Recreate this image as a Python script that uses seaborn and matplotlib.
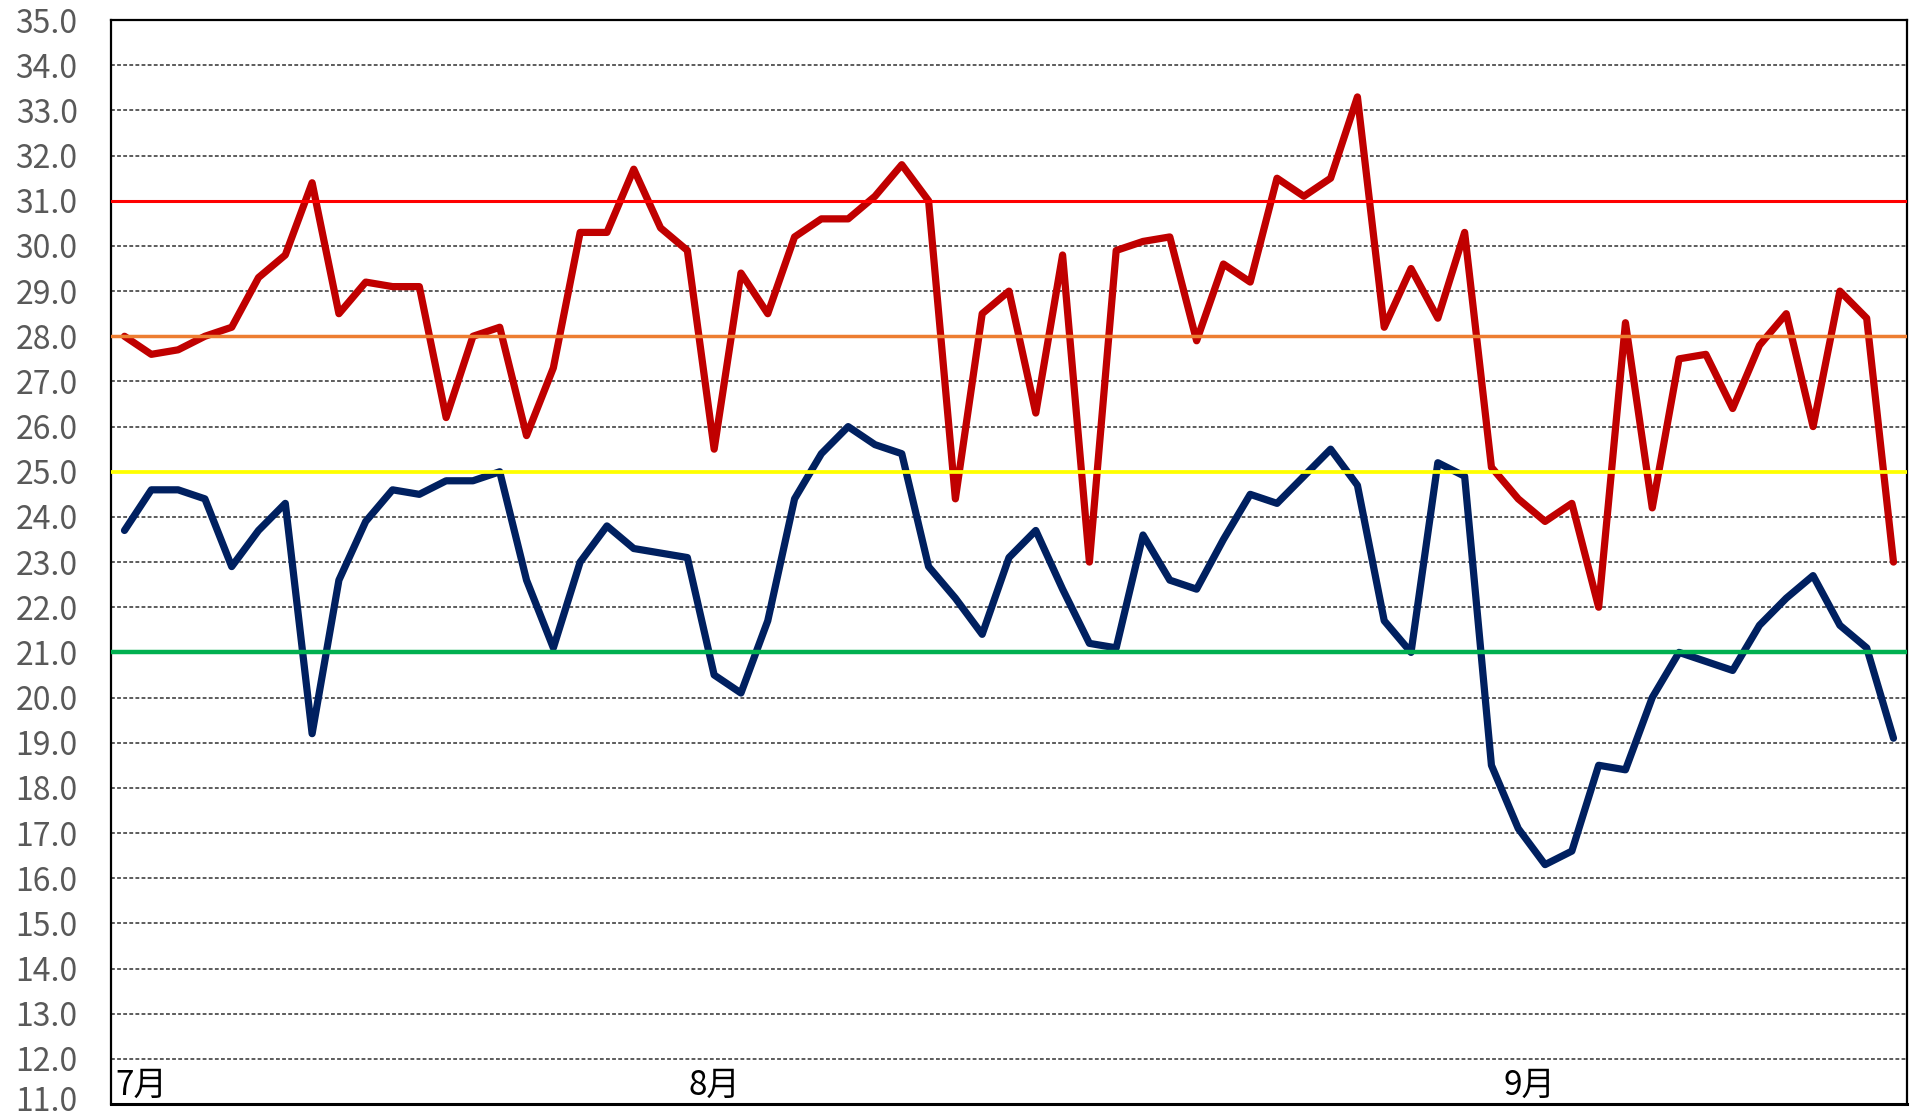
import numpy as np
import pandas as pd
import matplotlib
matplotlib.use("Agg")
import matplotlib.pyplot as plt
import matplotlib.transforms as mtransforms
import seaborn as sns

# daily values, Jul 10 - Sep 14
start_date = "2023-07-10"
tmax = [28.0, 27.6, 27.7, 28.0, 28.2, 29.3, 29.8, 31.4, 28.5, 29.2,
        29.1, 29.1, 26.2, 28.0, 28.2, 25.8, 27.3, 30.3, 30.3, 31.7,
        30.4, 29.9, 25.5, 29.4, 28.5, 30.2, 30.6, 30.6, 31.1, 31.8,
        31.0, 24.4, 28.5, 29.0, 26.3, 29.8, 23.0, 29.9, 30.1, 30.2,
        27.9, 29.6, 29.2, 31.5, 31.1, 31.5, 33.3, 28.2, 29.5, 28.4,
        30.3, 25.1, 24.4, 23.9, 24.3, 22.0, 28.3, 24.2, 27.5, 27.6,
        26.4, 27.8, 28.5, 26.0, 29.0, 28.4, 23.0]
tmin = [23.7, 24.6, 24.6, 24.4, 22.9, 23.7, 24.3, 19.2, 22.6, 23.9,
        24.6, 24.5, 24.8, 24.8, 25.0, 22.6, 21.1, 23.0, 23.8, 23.3,
        23.2, 23.1, 20.5, 20.1, 21.7, 24.4, 25.4, 26.0, 25.6, 25.4,
        22.9, 22.2, 21.4, 23.1, 23.7, 22.4, 21.2, 21.1, 23.6, 22.6,
        22.4, 23.5, 24.5, 24.3, 24.9, 25.5, 24.7, 21.7, 21.0, 25.2,
        24.9, 18.5, 17.1, 16.3, 16.6, 18.5, 18.4, 20.0, 21.0, 20.8,
        20.6, 21.6, 22.2, 22.7, 21.6, 21.1, 19.1]
ref_levels = [31.0, 28.0, 25.0, 21.0]
ref_colors = ["#FF0000", "#ED7D31", "#FFFF00", "#00B050"]
ref_widths = [2.2, 2.5, 2.7, 3.2]
month_labels = ["7月", "8月", "9月"]

dates = pd.date_range(start_date, periods=len(tmax))
idx = np.arange(len(tmax))
df = pd.DataFrame({
    "idx": np.concatenate([idx, idx]),
    "temp": tmax + tmin,
    "series": ["max"] * len(tmax) + ["min"] * len(tmin),
})

sns.set_theme(style="white")
plt.rcParams["font.family"] = ["Noto Sans CJK JP", "DejaVu Sans"]

fig = plt.figure(figsize=(19.32, 11.2), dpi=100)
ax = fig.add_axes([0.0575, 0.0143, 0.9295, 0.9677])

# dashed grid
for v in range(12, 35):
    ax.axhline(v, color="#303030", lw=1.1, ls=(0, (2.5, 1.5)), zorder=1)

sns.lineplot(data=df, x="idx", y="temp", hue="series",
             palette={"max": "#C00000", "min": "#002060"},
             linewidth=5.2, ax=ax, legend=False, zorder=3)

for lvl, c, w in zip(ref_levels, ref_colors, ref_widths):
    ax.axhline(lvl, color=c, lw=w, zorder=4)

ax.set_xlim(-0.5, len(tmax) - 0.5)
ax.set_ylim(11, 35)
yt = np.arange(11, 35.1, 1.0)
ax.set_yticks(yt)
ax.set_yticklabels([f"{v:.1f}" for v in yt])
ax.tick_params(axis="y", length=0, pad=24, labelsize=23, labelcolor="#595959")
ax.set_xticks([])
ax.set_xlabel("")
ax.set_ylabel("")

# keep the bottom label inside the figure
lab0 = ax.get_yticklabels()[0]
lab0.set_transform(lab0.get_transform() + mtransforms.ScaledTranslation(0, 5 / 100, fig.dpi_scale_trans))

for s in ax.spines.values():
    s.set_color("black")
    s.set_linewidth(1.6)
ax.spines["bottom"].set_linewidth(2.2)

# month labels at first day of each month
month_pos = [0] + [int(i) for i in np.where(dates.day == 1)[0]]
label_shift = [0.0, 0.0, -0.6]
for lab, pos, sh in zip(month_labels, month_pos, label_shift):
    if pos == 0:
        ax.text(-0.35, 11.42, lab, ha="left", va="center", fontsize=24, color="black", zorder=5)
    else:
        ax.text(pos + sh, 11.42, lab, ha="center", va="center", fontsize=24, color="black", zorder=5)

fig.savefig("out.png", dpi=100)
